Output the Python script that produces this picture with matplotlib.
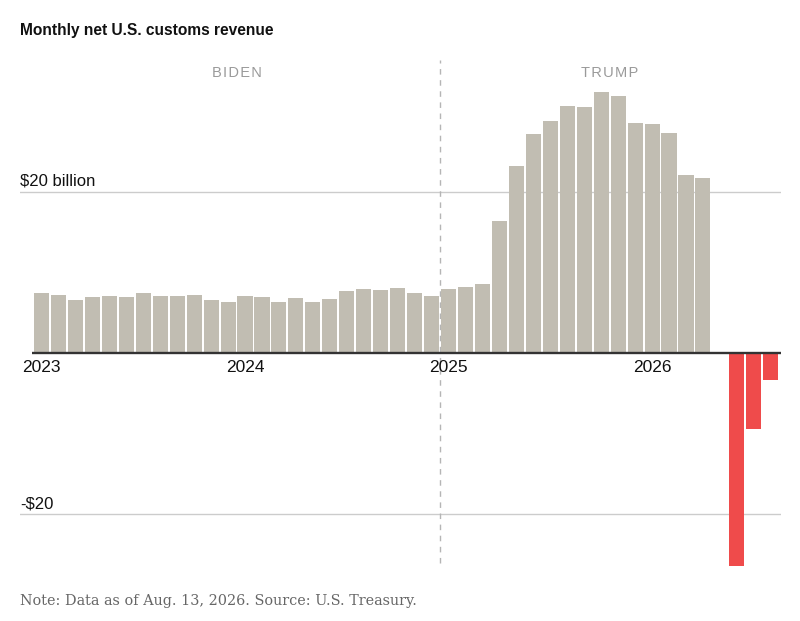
import matplotlib.pyplot as plt

# Monthly net customs revenue, billions of dollars (Jan 2023 - Aug 2026)
revenue = [7.4, 7.2, 6.6, 6.9, 7.05, 6.9, 7.4, 7.1, 7.1, 7.2, 6.6, 6.3,      # 2023
           7.05, 7.0, 6.35, 6.8, 6.35, 6.7, 7.7, 7.9, 7.8, 8.0, 7.4, 7.1,    # 2024
           7.95, 8.2, 8.6, 16.4, 23.15, 27.1, 28.7, 30.6, 30.5, 32.3, 31.8, 28.55,  # 2025
           28.4, 27.2, 22.0, 21.7, None, -26.4, -9.45, -3.3]                # 2026
year_labels = ["2023", "2024", "2025", "2026"]
year_pos = [0, 12, 24, 36]
eras = ["BIDEN", "TRUMP"]
era_pos = [11.5, 33.5]

W, H = 800, 621
fig = plt.figure(figsize=(W / 100, H / 100), dpi=100)
ax = fig.add_axes([20 / W, (H - 580) / H, (781 - 20) / W, 540 / H])

px_per_b = 8.07
ax.set_ylim(-(580 - 353) / px_per_b, (353 - 40) / px_per_b)
x0 = (20 - 41.5) / 16.96
x1 = (781 - 41.5) / 16.96
ax.set_xlim(x0, x1)

for i, v in enumerate(revenue):
    if v is None:
        continue
    c = "#c1bdb2" if v >= 0 else "#ef4b4b"
    ax.bar(i, v, width=0.89, color=c, zorder=2)

# gridlines
for g in [20, -20]:
    ax.axhline(g, color="#cccccc", lw=1, zorder=1)
ax.plot([-0.55, x1], [0, 0], color="#333333", lw=1.7, zorder=3, solid_capstyle="butt")

# divider between administrations
y_top = (353 - 60) / px_per_b
y_bot = -(563 - 353) / px_per_b
ax.plot([23.5, 23.5], [y_bot, y_top], color="#b5b5b5", lw=1, ls=(0, (4, 4)), zorder=1)

font = "Liberation Sans"
ax.text(x0, 20 + 0.4, "$20 billion", fontsize=12, family=font, va="bottom", ha="left", color="#111111")
ax.text(x0, -20 + 0.4, "-$20", fontsize=12, family=font, va="bottom", ha="left", color="#111111")

for lab, p in zip(year_labels, year_pos):
    ax.text(p, -0.9, lab, fontsize=12.5, family=font, ha="center", va="top", color="#111111")

for lab, p in zip(eras, era_pos):
    ax.text(p, (353 - 73) / px_per_b, "\u200a".join(lab), fontsize=10.5, family=font,
            ha="center", va="center", color="#9a9a9a")

for s in ax.spines.values():
    s.set_visible(False)
ax.set_xticks([])
ax.set_yticks([])

fig.text(20 / W, 1 - 30 / H, "Monthly net U.S. customs revenue", fontsize=11.2, fontweight="bold",
         family=font, ha="left", va="center", color="#111111")
fig.text(20 / W, 1 - 601 / H, "Note: Data as of Aug. 13, 2026. Source: U.S. Treasury.", fontsize=10.4,
         family="DejaVu Serif", ha="left", va="center", color="#666666")

fig.savefig("out.png", dpi=100)
